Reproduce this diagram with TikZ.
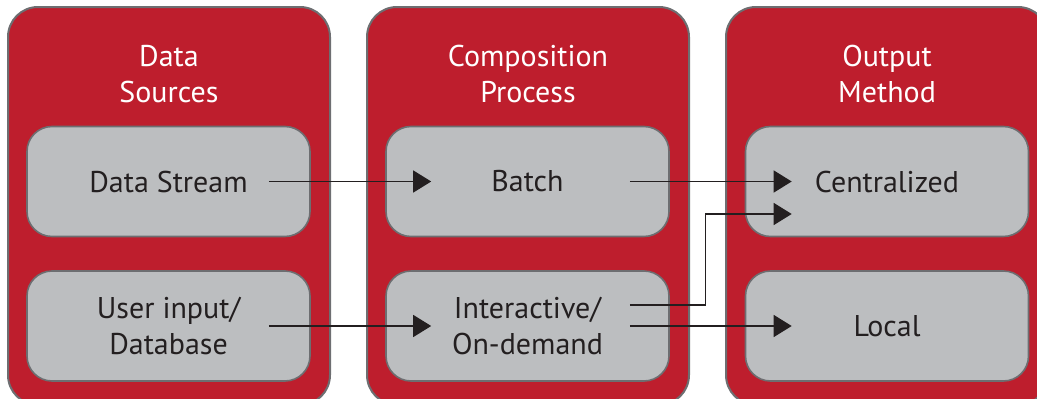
\documentclass[tikz,border=0pt]{standalone}
\usepackage{fontspec}
\setmainfont{PT Sans}
\usetikzlibrary{arrows.meta}
\definecolor{panelred}{HTML}{BE1E2D}
\definecolor{boxgray}{HTML}{BCBEC0}
\definecolor{edgegray}{HTML}{6D6E71}
\definecolor{ink}{HTML}{231F20}
\begin{document}
\begin{tikzpicture}[x=1pt,y=-1pt,
  panel/.style={draw=edgegray, line width=2pt, fill=panelred, rounded corners=30pt,
    minimum width=322pt, minimum height=398pt, inner sep=0pt},
  stage/.style={draw=edgegray, line width=1.6pt, fill=boxgray, rounded corners=25pt,
    minimum width=283pt, minimum height=110pt, inner sep=0pt, align=center,
    text=ink, font=\fontsize{30}{36}\selectfont},
  title/.style={text=white, align=center, font=\fontsize{30}{36}\selectfont},
  arr/.style={draw=ink, line width=1.3pt, -{Triangle[length=18pt,width=22pt]}},
]
\useasboundingbox (0,0) rectangle (1037,399);
\clip (0,0) rectangle (1037,399);
% panels
\node[panel] (p1) at (169,206) {};
\node[panel] (p2) at (528,206) {};
\node[panel] (p3) at (887,206) {};
% titles
\node[title] (t1) at (169,74) {Data\\Sources};
\node[title] (t2) at (528,74) {Composition\\Process};
\node[title] (t3) at (887,74) {Output\\Method};
% boxes
\node[stage] (ds) at (168.5,181.5) {Data Stream};
\node[stage] (ui) at (168.5,326) {User input/\\Database};
\node[stage] (ba) at (527.5,181.5) {Batch};
\node[stage] (ia) at (527.5,326) {Interactive/\\On-demand};
\node[stage] (ce) at (887,181.5) {Centralized};
\node[stage] (lo) at (887,326) {Local};
% connector end points
\coordinate (s1) at ([xshift=-42pt]ds.east);
\coordinate (e1) at ([xshift=46pt]ba.west);
\coordinate (s2) at ([xshift=-42pt]ui.east);
\coordinate (e2) at ([xshift=46pt]ia.west);
\coordinate (s3) at ([xshift=-40pt]ba.east);
\coordinate (e3) at ([xshift=47pt]ce.west);
\coordinate (s4) at ([xshift=-40pt,yshift=21pt]ia.east);
\coordinate (e4) at ([xshift=47pt,yshift=-32.5pt]ce.west);
\coordinate (s5) at ([xshift=-40pt]ia.east);
\coordinate (e5) at ([xshift=47pt]lo.west);
% connectors
\draw[arr] (s1) -- (e1);
\draw[arr] (s2) -- (e2);
\draw[arr] (s3) -- (e3);
\draw[arr] (s4) -- ++(76,0) |- (e4);
\draw[arr] (s5) -- (e5);
\end{tikzpicture}
\end{document}
